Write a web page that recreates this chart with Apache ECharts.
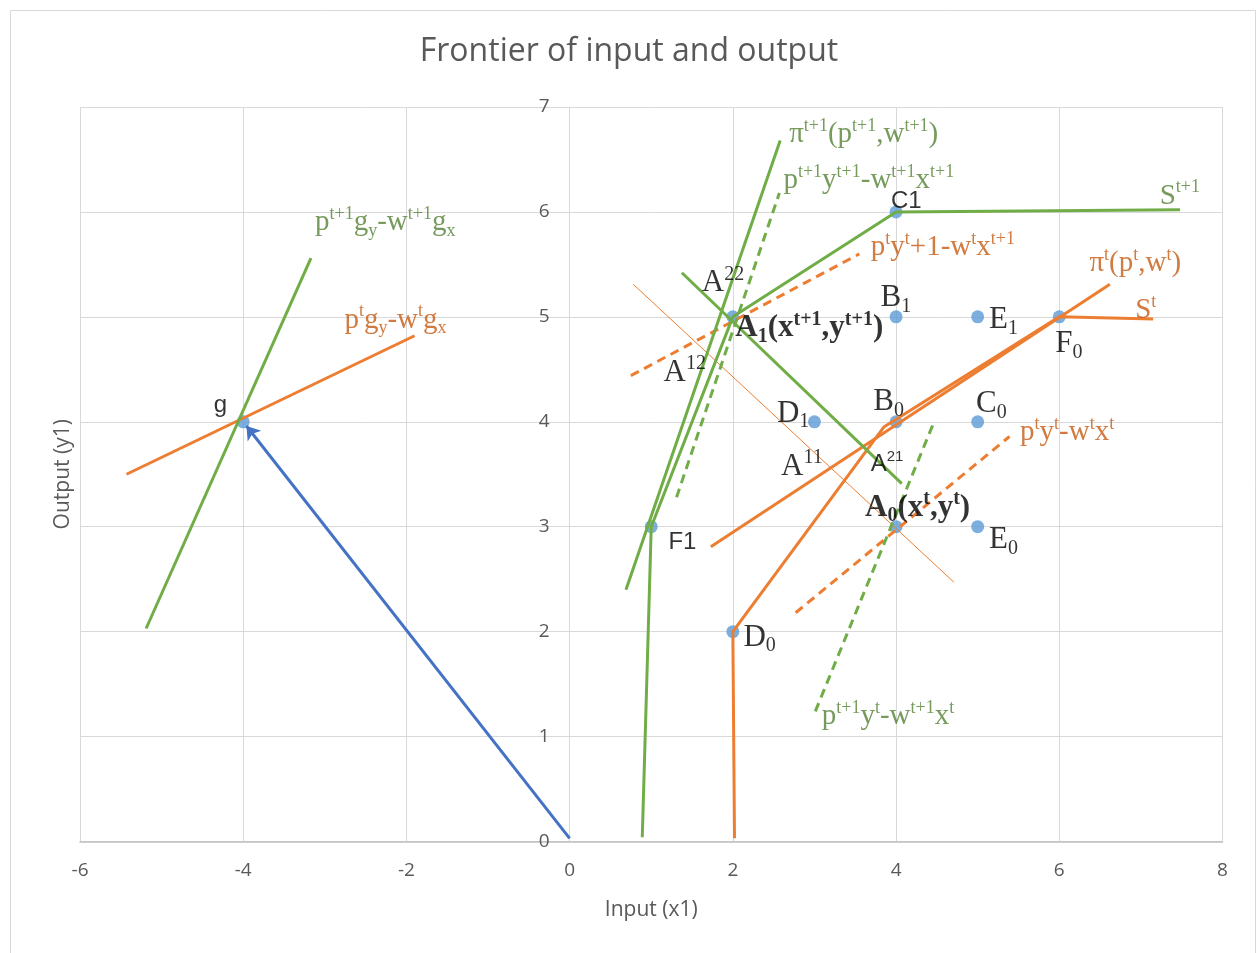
<!DOCTYPE html>
<html>
<head>
<meta charset="utf-8">
<title>Frontier of input and output</title>
<script src="https://cdn.jsdelivr.net/npm/echarts@6/dist/echarts.min.js"></script>
<style>
html, body { margin: 0; padding: 0; background: #fff; }
#chart { width: 1258px; height: 953px; }
</style>
</head>
<body>
<div id="chart"></div>
<script>
// axis ranges (ticks every 2 on x, every 1 on y)
var xRange = [-6, 8]
var yRange = [0, 7]

// observed points
var pointNames = ['A1', 'C1', 'B1', 'E1', 'F0', 'B0', 'C0', 'D1', 'A0', 'E0', 'F1', 'D0', 'g']
var pointX = [2, 4, 4, 5, 6, 4, 5, 3, 4, 5, 1, 2, -4]
var pointY = [5, 6, 5, 5, 5, 4, 4, 4, 3, 3, 3, 2, 4]

// period t+1 (green)
var frontierNext = [[0.89, 0.04], [1, 3], [2, 5], [4, 6], [7.48, 6.02]]
var profitNext = [[0.69, 2.40], [2.58, 6.68]]
var isoNextNext = [[1.31, 3.28], [2.57, 6.18]]
var isoNextT = [[3.01, 1.24], [4.45, 3.97]]
var crossNext = [[1.375, 5.42], [4.07, 3.41]]
var dirNext = [[-5.19, 2.03], [-3.17, 5.56]]

// period t (orange)
var frontierT = [[2.02, 0.03], [2, 2], [3.85, 3.95], [6, 5], [7.15, 4.98]]
var profitT = [[1.73, 2.81], [6.62, 5.31]]
var crossT = [[0.78, 5.31], [4.71, 2.47]]
var isoTNext = [[0.75, 4.44], [3.55, 5.60]]
var isoTT = [[2.77, 2.18], [5.39, 3.86]]
var dirT = [[-5.43, 3.50], [-1.90, 4.82]]

// direction vector g
var gVector = [[0, 0.03], [-3.96, 3.96]]

// annotations: text (^{} sup, _{} sub), anchor in data units
var notes = [
  { t: 'π^{t+1}(p^{t+1},w^{t+1})', x: 2.69, y: 6.74, c: 'green', f: 'formula' },
  { t: 'p^{t+1}y^{t+1}-w^{t+1}x^{t+1}', x: 2.62, y: 6.30, c: 'green', f: 'formula' },
  { t: 'C1', x: 4.125, y: 6.10, c: 'black', f: 'sans', a: 'center' },
  { t: 'S^{t+1}', x: 7.23, y: 6.15, c: 'green', f: 'formula' },
  { t: 'p^{t}y^{t}+1-w^{t}x^{t+1}', x: 3.69, y: 5.66, c: 'orange', f: 'formula' },
  { t: 'π^{t}(p^{t},w^{t})', x: 6.37, y: 5.51, c: 'orange', f: 'formula' },
  { t: 'S^{t}', x: 6.93, y: 5.06, c: 'orange', f: 'formula' },
  { t: 'B_{1}', x: 3.81, y: 5.18, c: 'black' },
  { t: 'E_{1}', x: 5.14, y: 4.97, c: 'black' },
  { t: 'F_{0}', x: 5.95, y: 4.74, c: 'black' },
  { t: 'B_{0}', x: 3.72, y: 4.19, c: 'black' },
  { t: 'C_{0}', x: 4.98, y: 4.17, c: 'black' },
  { t: 'p^{t}y^{t}-w^{t}x^{t}', x: 5.52, y: 3.90, c: 'orange', f: 'formula' },
  { t: 'A^{22}', x: 1.62, y: 5.32, c: 'black' },
  { t: 'A_{1}(x^{t+1},y^{t+1})', x: 2.03, y: 4.89, c: 'black', f: 'bold' },
  { t: 'A^{12}', x: 1.15, y: 4.47, c: 'black' },
  { t: 'D_{1}', x: 2.54, y: 4.08, c: 'black' },
  { t: 'A^{11}', x: 2.59, y: 3.575, c: 'black' },
  { t: 'A^{21}', x: 3.69, y: 3.59, c: 'black', f: 'sans' },
  { t: 'A_{0}(x^{t},y^{t})', x: 3.62, y: 3.18, c: 'black', f: 'bold' },
  { t: 'F1', x: 1.21, y: 2.85, c: 'black', f: 'sans' },
  { t: 'E_{0}', x: 5.14, y: 2.87, c: 'black' },
  { t: 'D_{0}', x: 2.13, y: 1.945, c: 'black' },
  { t: 'p^{t+1}y^{t}-w^{t+1}x^{t}', x: 3.09, y: 1.19, c: 'green', f: 'formula' },
  { t: 'p^{t+1}g_{y}-w^{t+1}g_{x}', x: -3.12, y: 5.90, c: 'green', f: 'formula' },
  { t: 'p^{t}g_{y}-w^{t}g_{x}', x: -2.76, y: 4.97, c: 'orange', f: 'formula' },
  { t: 'g', x: -4.28, y: 4.16, c: 'black', f: 'sans', a: 'center' }
]

var GREEN = '#70ad47'
var ORANGE = '#ed7d31'
var textColors = { green: '#548235', orange: '#c55a11', black: '#000000' }
var GRID = { left: 80, top: 107, width: 1142.5, height: 734.5 }

// turn 'p^{t}x_{1}' into echarts rich text
function toRich(s) {
  var out = ''
  var buf = ''
  var i = 0
  function flush() {
    if (buf) { out += '{m|' + buf + '}'; buf = '' }
  }
  while (i < s.length) {
    var ch = s[i]
    if ((ch === '^' || ch === '_') && s[i + 1] === '{') {
      flush()
      var end = s.indexOf('}', i)
      out += '{' + (ch === '^' ? 'u' : 'd') + '|' + s.slice(i + 2, end) + '}'
      i = end + 1
    } else {
      buf += ch
      i++
    }
  }
  flush()
  return out
}

function richFor(color, kind) {
  var family = kind === 'sans' ? 'Liberation Sans' : 'Liberation Serif'
  var weight = kind === 'bold' ? 'bold' : 'normal'
  var size = { sans: 24, formula: 29 }[kind] || 31
  var small = Math.round(size * 0.63)
  return {
    m: { color: color, fontFamily: family, fontWeight: weight, fontSize: size, lineHeight: size + 6 },
    u: { color: color, fontFamily: family, fontWeight: weight, fontSize: small, lineHeight: Math.round(small * 1.3), verticalAlign: 'top' },
    d: { color: color, fontFamily: family, fontWeight: weight, fontSize: small, lineHeight: small, verticalAlign: 'bottom' }
  }
}

function lineSeries(name, data, color, opts) {
  opts = opts || {}
  return {
    name: name,
    type: 'line',
    data: data,
    symbol: 'none',
    silent: true,
    z: 3,
    lineStyle: {
      color: color,
      width: opts.width || 3,
      type: opts.dashed ? [9, 6] : 'solid'
    }
  }
}

var chart = echarts.init(document.getElementById('chart'))

var pointData = pointX.map(function(x, i) {
  return { name: pointNames[i], value: [x, pointY[i]] }
})

var noteData = notes.map(function(n) {
  return {
    value: [n.x, n.y],
    label: {
      show: true,
      position: [0, 0],
      align: n.a || 'left',
      verticalAlign: 'middle',
      formatter: function() { return toRich(n.t) },
      rich: richFor(textColors[n.c], n.f)
    }
  }
})

// y axis crosses at x = 0, as in the spreadsheet
var yAxisShift = -(0 - xRange[0]) / (xRange[1] - xRange[0]) * GRID.width

var axisText = { color: '#595959', fontFamily: 'Open Sans', fontSize: 19 }

chart.setOption({
  animation: false,
  backgroundColor: '#ffffff',
  title: {
    text: 'Frontier of input and output',
    left: 'center',
    top: 31,
    textStyle: { color: '#595959', fontFamily: 'Open Sans', fontSize: 32, fontWeight: 'normal' }
  },
  graphic: [{
    type: 'rect',
    shape: { x: 10.5, y: 10.5, width: 1245, height: 960 },
    style: { fill: 'none', stroke: '#d9d9d9', lineWidth: 1 },
    silent: true,
    z: -1
  }],
  grid: {
    left: GRID.left, top: GRID.top, width: GRID.width, height: GRID.height,
    containLabel: false,
    outerBoundsMode: 'none'
  },
  xAxis: {
    type: 'value',
    min: xRange[0],
    max: xRange[1],
    interval: 2,
    name: 'Input (x1)',
    nameLocation: 'middle',
    nameGap: 58,
    nameTextStyle: { color: '#595959', fontFamily: 'Open Sans', fontSize: 21 },
    axisLine: { onZero: false, lineStyle: { color: '#bfbfbf', width: 1.5 } },
    axisTick: { show: false },
    axisLabel: Object.assign({ margin: 20 }, axisText),
    splitLine: { lineStyle: { color: '#d9d9d9', width: 1 } }
  },
  yAxis: {
    type: 'value',
    min: yRange[0],
    max: yRange[1],
    interval: 1,
    offset: yAxisShift,
    name: 'Output (y1)',
    nameLocation: 'middle',
    nameGap: 496,
    nameTextStyle: { color: '#595959', fontFamily: 'Open Sans', fontSize: 21 },
    axisLine: { show: true, onZero: false, lineStyle: { color: '#d9d9d9', width: 1 } },
    axisTick: { show: false },
    axisLabel: Object.assign({ margin: 20 }, axisText),
    splitLine: { lineStyle: { color: '#d9d9d9', width: 1 } }
  },
  series: [
    {
      name: 'points',
      type: 'scatter',
      data: pointData,
      symbolSize: 13,
      itemStyle: { color: '#5b9bd5' },
      z: 2,
      silent: true
    },
    {
      name: 'g',
      type: 'lines',
      coordinateSystem: 'cartesian2d',
      data: [{ coords: gVector }],
      symbol: ['none', 'arrow'],
      symbolSize: 13,
      lineStyle: { color: '#4472c4', width: 3, opacity: 1 },
      z: 3,
      silent: true
    },
    lineSeries('St', frontierT, ORANGE),
    lineSeries('pi t', profitT, ORANGE),
    lineSeries('cross t', crossT, ORANGE, { width: 1 }),
    lineSeries('iso t t+1', isoTNext, ORANGE, { dashed: true }),
    lineSeries('iso t t', isoTT, ORANGE, { dashed: true }),
    lineSeries('dir t', dirT, ORANGE),
    lineSeries('St+1', frontierNext, GREEN),
    lineSeries('pi t+1', profitNext, GREEN),
    lineSeries('iso t+1 t+1', isoNextNext, GREEN, { dashed: true }),
    lineSeries('iso t+1 t', isoNextT, GREEN, { dashed: true }),
    lineSeries('cross t+1', crossNext, GREEN),
    lineSeries('dir t+1', dirNext, GREEN),
    {
      name: 'notes',
      type: 'scatter',
      data: noteData,
      symbolSize: 0,
      z: 5,
      silent: true
    }
  ]
})
</script>
</body>
</html>
